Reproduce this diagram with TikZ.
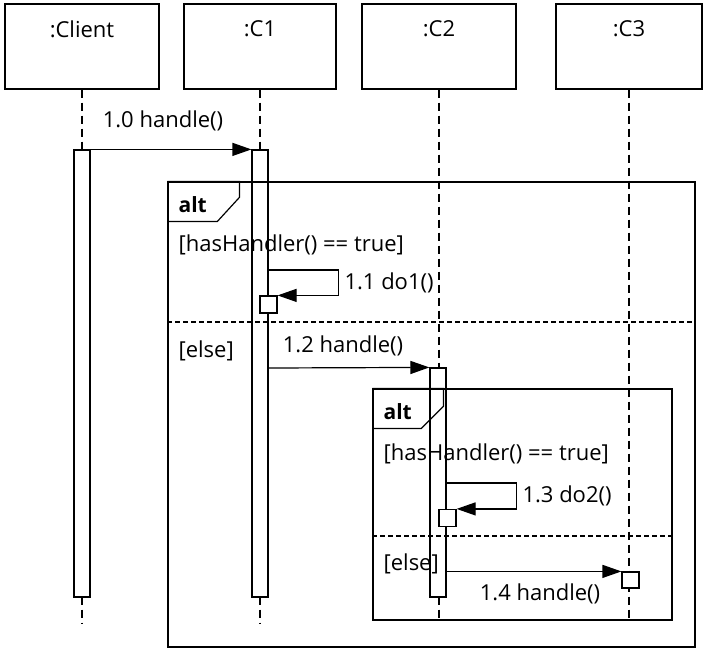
\documentclass[tikz,border=0pt]{standalone}
\usepackage{fontspec}
\setmainfont{Open Sans}
\usetikzlibrary{arrows.meta, positioning, calc}

\begin{document}
\begin{tikzpicture}[x=1pt, y=-1pt, font=\fontsize{22}{26}\selectfont, line width=1.2pt,
        head/.style={draw, minimum width=154pt, minimum height=85pt, inner sep=0pt},
        life/.style={dash pattern=on 8pt off 5pt},
        act/.style={draw, fill=white, minimum width=16pt, inner sep=0pt},
        call/.style={draw, fill=white, minimum size=17pt, inner sep=0pt},
        msg/.style={-{Triangle[length=19pt, width=13pt]}},
        frm/.style={draw, inner sep=0pt},
        sep/.style={dash pattern=on 5pt off 3pt},
        guard/.style={anchor=west, inner sep=0pt}]
        \useasboundingbox (0,0) rectangle (703,649);
        \node[head] (cl) at (82,46.5)  {};
        \node[head, minimum width=152pt] (c1) at (260,46.5) {};
        \node[head] (c2) at (439,46.5) {};
        \node[head, minimum width=146pt] (c3) at (629,46.5) {};
        \node at (82,29)  {:Client};
        \node at (260,29) {:C1};
        \node at (439,29) {:C2};
        \node at (629,29) {:C3};
        \foreach \n/\e in {cl/623,c1/623,c2/620,c3/620} \draw[life] (\n.south) -- (\n.south |- 0,\e);
        \node[act, minimum height=447pt] (a0) at (82,373.5) {};
        \node[act, minimum height=447pt] (a1) at (260,373.5) {};
        \node[act, minimum height=229pt] (a2) at (438,482.5) {};
        \node[frm, minimum width=527pt, minimum height=465pt] (f1) at (431.5,414.5) {};
        \draw (f1.north west) -- ++(72,0) -- ++(0,16) -- ++(-22,24) -- ++(-50,0);
        \node[guard, font=\fontsize{21}{24}\selectfont\bfseries] at (178,205) {alt};
        \node[guard] at (178,245) {[hasHandler() == true]};
        \draw[sep] (f1.west |- 0,322) -- (f1.east |- 0,322);
        \node[guard] at (178,351) {[else]};
        \node[frm, minimum width=299pt, minimum height=231pt] (f2) at (522.5,504.5) {};
        \draw (f2.north west) -- ++(71,0) -- ++(0,18) -- ++(-22,22) -- ++(-49,0);
        \node[guard, font=\fontsize{21}{24}\selectfont\bfseries] at (383,412) {alt};
        \node[guard] at (383,454) {[hasHandler() == true]};
        \draw[sep] (f2.west |- 0,536) -- (f2.east |- 0,536);
        \node[guard] at (383,564) {[else]};
        \node[call] (b1) at (268.5,304.5) {};
        \node[call] (b2) at (447.5,518) {};
        \node[call, minimum height=16pt] (b3) at (630.5,580) {};
        \draw[msg] (a0.north east) -- node[above=14pt, xshift=-8pt]{1.0 handle()} (a1.north west);
        \draw[msg] (a1.east |- 0,270) -- ++(70,0) |- node[right=2pt, pos=0.25]{1.1 do1()} (b1.north east);
        \draw[msg] (a1.east |- 0,368) -- node[above=8pt, xshift=-6pt]{1.2 handle()} (a2.north west);
        \draw[msg] (a2.east |- 0,483) -- ++(70,0) |- node[right=2pt, pos=0.25]{1.3 do2()} (b2.north east);
        \draw[msg] (a2.east |- b3.north west) -- node[below=8pt, xshift=6pt]{1.4 handle()} (b3.north west);
    \end{tikzpicture}
\end{document}
